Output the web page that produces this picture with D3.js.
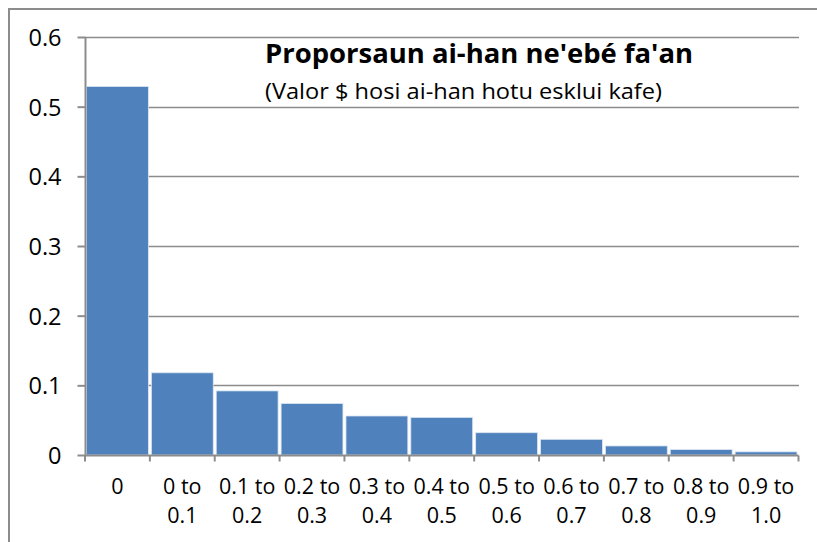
<!DOCTYPE html>
<html>
<head>
<meta charset="utf-8">
<script src="https://cdn.jsdelivr.net/npm/d3@7"></script>
<style>
  html, body { margin: 0; padding: 0; background: #fff; }
  svg { display: block; }
  text { font-family: "Open Sans", "Liberation Sans", sans-serif; fill: #000; }
</style>
</head>
<body>
<svg id="chart" width="817" height="542"></svg>
<script>
const categories = ["0", "0 to|0.1", "0.1 to|0.2", "0.2 to|0.3", "0.3 to|0.4", "0.4 to|0.5",
                    "0.5 to|0.6", "0.6 to|0.7", "0.7 to|0.8", "0.8 to|0.9", "0.9 to|1.0"];
const values = [0.529, 0.118, 0.092, 0.074, 0.056, 0.054, 0.032, 0.0225, 0.013, 0.0078, 0.0045];
const yTicks = [0, 0.1, 0.2, 0.3, 0.4, 0.5, 0.6];
const titleText = "Proporsaun ai-han ne'ebé fa'an";
const subtitleText = "(Valor $ hosi ai-han hotu esklui kafe)";

const svg = d3.select("#chart");
const pLeft = 85, pRight = 798.5, pTop = 37, pBottom = 455;

// outer chart border (only top & left visible)
svg.append("rect").attr("x", 9).attr("y", 9).attr("width", 900).attr("height", 700)
  .attr("fill", "none").attr("stroke", "#8c8c8c").attr("stroke-width", 2);

const x = d3.scaleBand().domain(categories).range([pLeft, pRight]).paddingInner(0).paddingOuter(0);
const y = d3.scaleLinear().domain([0, 0.6]).range([pBottom, pTop]);

// gridlines
svg.append("g").selectAll("line").data(yTicks.filter(d => d > 0)).join("line")
  .attr("x1", pLeft).attr("x2", pRight + 0.5)
  .attr("y1", d => Math.round(y(d)) + 0.5).attr("y2", d => Math.round(y(d)) + 0.5)
  .attr("stroke", "#8c8c8c").attr("stroke-width", 1.3);

// bars
svg.append("g").selectAll("rect").data(values).join("rect")
  .attr("x", (d, i) => x(categories[i]) + 1.5)
  .attr("width", x.bandwidth() - 3)
  .attr("y", d => y(d))
  .attr("height", d => y(0) - y(d))
  .attr("fill", "#4f81bd")
  .attr("stroke", "#dce6f2").attr("stroke-width", 0.8);

// y axis
const yAxis = d3.axisLeft(y).tickValues(yTicks).tickSize(8).tickPadding(16)
  .tickFormat(d => d === 0 ? "0" : d3.format(".1f")(d));
const gy = svg.append("g").attr("transform", `translate(${pLeft + 0.5},0)`).call(yAxis);
gy.select(".domain").attr("stroke", "#8c8c8c").attr("stroke-width", 2)
  .attr("d", `M0,${pTop}V${pBottom}`);
gy.selectAll(".tick line").attr("stroke", "#8c8c8c").attr("stroke-width", 2);
gy.selectAll(".tick text").attr("font-size", 23.5).attr("dy", "0.36em")
  .style("font-family", '"Open Sans", "Liberation Sans", sans-serif').attr("fill", "#000");

// x axis
const gx = svg.append("g").attr("transform", `translate(0,${pBottom + 0.5})`);
gx.append("line").attr("x1", pLeft).attr("x2", pRight).attr("y1", 0).attr("y2", 0)
  .attr("stroke", "#8c8c8c").attr("stroke-width", 2);
const boundaries = categories.map(c => x(c)).concat([x(categories[categories.length - 1]) + x.bandwidth()]);
gx.selectAll("line.tk").data(boundaries).join("line").attr("class", "tk")
  .attr("x1", d => d).attr("x2", d => d).attr("y1", 0).attr("y2", 6)
  .attr("stroke", "#8c8c8c").attr("stroke-width", 2);
const lbl = gx.selectAll("text.lb").data(categories).join("text").attr("class", "lb")
  .attr("text-anchor", "middle").attr("font-size", 21.5)
  .attr("transform", d => `translate(${x(d) + x.bandwidth() / 2},0)`);
lbl.each(function(d) {
  const parts = d.split("|");
  d3.select(this).selectAll("tspan").data(parts).join("tspan")
    .attr("x", 0).attr("y", (p, i) => 38 + i * 29).text(p => p);
});

// title
svg.append("text").attr("x", 265).attr("y", 63).attr("font-size", 27.5).attr("font-weight", "bold")
  .attr("textLength", 428).attr("lengthAdjust", "spacingAndGlyphs")
  .text(titleText);
svg.append("text").attr("x", 265).attr("y", 99).attr("font-size", 22)
  .attr("textLength", 397).attr("lengthAdjust", "spacingAndGlyphs")
  .text(subtitleText);
</script>
</body>
</html>
